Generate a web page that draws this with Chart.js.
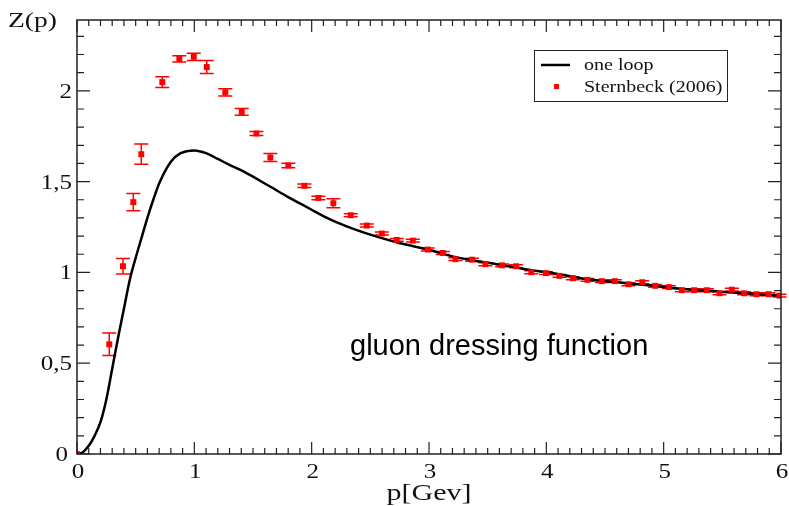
<!DOCTYPE html>
<html>
<head>
<meta charset="utf-8">
<script src="https://cdn.jsdelivr.net/npm/chart.js@4.4.1/dist/chart.umd.min.js"></script>
<style>
  html, body { margin: 0; padding: 0; background: #fff; }
  #wrap { width: 789px; height: 506px; }
</style>
</head>
<body>
<div id="wrap"><canvas id="chart" width="789" height="506"></canvas></div>
<script>
// Sternbeck (2006) lattice points
const latticeP = [0, 0.275, 0.392, 0.48, 0.548, 0.727, 0.872, 0.995, 1.106, 1.264, 1.404, 1.529, 1.648, 1.801,
    1.938, 2.057, 2.185, 2.333, 2.470, 2.598, 2.725, 2.862, 2.990, 3.118, 3.225, 3.367, 3.481, 3.623, 3.743,
    3.872, 3.997, 4.112, 4.226, 4.350, 4.473, 4.584, 4.700, 4.817, 4.928, 5.044, 5.155, 5.260, 5.368, 5.476,
    5.581, 5.686, 5.791, 5.893, 5.987];
const latticeZ = [0, 0.604, 1.034, 1.387, 1.651, 2.048, 2.176, 2.187, 2.131, 1.991, 1.884, 1.765, 1.633, 1.589,
    1.477, 1.410, 1.381, 1.315, 1.258, 1.214, 1.179, 1.175, 1.126, 1.107, 1.073, 1.070, 1.045, 1.039, 1.034,
    1.001, 0.996, 0.981, 0.968, 0.959, 0.952, 0.952, 0.935, 0.946, 0.926, 0.919, 0.902, 0.902, 0.902, 0.885,
    0.905, 0.885, 0.880, 0.880, 0.872];
const latticeErr = [0, 0.062, 0.043, 0.047, 0.056, 0.030, 0.017, 0.020, 0.036, 0.020, 0.018, 0.011, 0.022, 0.012,
    0.010, 0.010, 0.025, 0.008, 0.008, 0.008, 0.008, 0.008, 0.008, 0.008, 0.008, 0.008, 0.008, 0.008, 0.008,
    0.008, 0.008, 0.008, 0.008, 0.008, 0.008, 0.008, 0.008, 0.008, 0.008, 0.008, 0.008, 0.008, 0.008, 0.008,
    0.008, 0.008, 0.008, 0.008, 0.008];

// one loop curve
const loopP = [0, 0.05, 0.1, 0.15, 0.2, 0.25, 0.3, 0.35, 0.4, 0.45, 0.5, 0.55, 0.6, 0.65, 0.7, 0.8, 0.88,
    1.0, 1.1, 1.2, 1.3, 1.418, 1.645, 1.8, 1.9, 2.0, 2.1, 2.2, 2.355, 2.555, 2.754, 2.981, 3.208, 3.436, 3.663,
    3.89, 4.06, 4.345, 4.629, 4.913, 5.198, 5.482, 5.766, 6.0];
const loopZ = [0, 0.01, 0.045, 0.10, 0.175, 0.30, 0.47, 0.64, 0.80, 0.96, 1.08, 1.19, 1.30, 1.40, 1.49, 1.61, 1.655,
    1.672, 1.657, 1.625, 1.592, 1.556, 1.473, 1.415, 1.38, 1.345, 1.31, 1.28, 1.24, 1.197, 1.161, 1.128, 1.087,
    1.06, 1.036, 1.01, 0.996, 0.962, 0.944, 0.926, 0.907, 0.894, 0.882, 0.871];

const xTicks = [0, 1, 2, 3, 4, 5, 6];
const xTickLabels = ['0', '1', '2', '3', '4', '5', '6'];
const yTicks = [0, 0.5, 1, 1.5, 2];
const yTickLabels = ['0', '0,5', '1', '1,5', '2'];

const serif = '"Liberation Serif", "Times New Roman", serif';
const stretch = 1.25; // the original plot is a bit wider than tall

function serifText(ctx, text, x, y, size, align) {
    ctx.save();
    ctx.font = size + 'px ' + serif;
    ctx.textAlign = align;
    ctx.textBaseline = 'alphabetic';
    ctx.fillStyle = '#111';
    ctx.translate(x, y);
    ctx.scale(stretch, 1);
    ctx.fillText(text, 0, 0);
    ctx.restore();
}

// error bars under the points
const errorBars = {
    id: 'errorBars',
    beforeDatasetsDraw(chart) {
        const ctx = chart.ctx;
        const xs = chart.scales.x, ys = chart.scales.y;
        ctx.save();
        ctx.strokeStyle = '#ff0000';
        ctx.lineWidth = 1.5;
        latticeP.forEach((p, i) => {
            const e = latticeErr[i];
            if (!e) return;
            const x = xs.getPixelForValue(p);
            const y1 = ys.getPixelForValue(latticeZ[i] + e);
            const y2 = ys.getPixelForValue(latticeZ[i] - e);
            ctx.beginPath();
            ctx.moveTo(x, y1); ctx.lineTo(x, y2);
            ctx.moveTo(x - 7, y1); ctx.lineTo(x + 7, y1);
            ctx.moveTo(x - 7, y2); ctx.lineTo(x + 7, y2);
            ctx.stroke();
        });
        ctx.restore();
    }
};

// frame, inward ticks, labels, legend, caption
const frame = {
    id: 'frame',
    afterDraw(chart) {
        const ctx = chart.ctx;
        const a = chart.chartArea;
        const xs = chart.scales.x, ys = chart.scales.y;
        ctx.save();
        ctx.strokeStyle = '#222';
        ctx.lineWidth = 1.5;
        ctx.strokeRect(a.left, a.top, a.right - a.left, a.bottom - a.top);

        ctx.lineWidth = 1.2;
        ctx.beginPath();
        for (let k = 0; k <= 60; k++) {
            const x = xs.getPixelForValue(k / 10);
            const len = k % 10 === 0 ? 12 : 6;
            ctx.moveTo(x, a.bottom); ctx.lineTo(x, a.bottom - len);
            ctx.moveTo(x, a.top); ctx.lineTo(x, a.top + len);
        }
        for (let k = 0; k <= 23; k++) {
            const y = ys.getPixelForValue(k / 10);
            const len = k % 5 === 0 ? 13 : 7;
            ctx.moveTo(a.left, y); ctx.lineTo(a.left + len, y);
            ctx.moveTo(a.right, y); ctx.lineTo(a.right - len, y);
        }
        ctx.stroke();
        ctx.restore();

        xTicks.forEach((v, i) => {
            serifText(ctx, xTickLabels[i], xs.getPixelForValue(v) + 1, a.bottom + 24, 20, 'center');
        });
        yTicks.forEach((v, i) => {
            const right = v === 0 ? a.left - 9 : a.left - 5;
            serifText(ctx, yTickLabels[i], right, ys.getPixelForValue(v) + 7, 20, 'right');
        });
        serifText(ctx, 'p[Gev]', (a.left + a.right) / 2, 500, 24, 'center');
        serifText(ctx, 'Z(p)', 8, 27, 22, 'left');

        // legend box
        ctx.save();
        ctx.strokeStyle = '#222';
        ctx.lineWidth = 1;
        ctx.strokeRect(534.5, 50.5, 193, 51);
        ctx.strokeStyle = '#000';
        ctx.lineWidth = 2.5;
        ctx.beginPath();
        ctx.moveTo(541, 65); ctx.lineTo(570, 65);
        ctx.stroke();
        ctx.fillStyle = '#ff0000';
        ctx.fillRect(554, 84, 5, 5);
        ctx.restore();
        serifText(ctx, 'one loop', 584, 70, 16, 'left');
        serifText(ctx, 'Sternbeck (2006)', 584, 92, 16, 'left');

        ctx.save();
        ctx.font = '29px "Liberation Sans", Arial, sans-serif';
        ctx.fillStyle = '#000';
        ctx.textBaseline = 'alphabetic';
        ctx.fillText('gluon dressing function', 350, 355);
        ctx.restore();
    }
};

new Chart(document.getElementById('chart'), {
    type: 'scatter',
    data: {
        datasets: [
            {
                label: 'one loop',
                data: loopP.map((p, i) => ({ x: p, y: loopZ[i] })),
                showLine: true,
                borderColor: '#000',
                borderWidth: 2.5,
                pointRadius: 0,
                tension: 0.4,
                cubicInterpolationMode: 'monotone',
                order: 2
            },
            {
                label: 'Sternbeck (2006)',
                data: latticeP.map((p, i) => ({ x: p, y: latticeZ[i] })),
                showLine: false,
                backgroundColor: '#ff0000',
                borderColor: '#ff0000',
                borderWidth: 0,
                pointStyle: 'rect',
                pointRadius: 4.2,
                order: 1
            }
        ]
    },
    options: {
        responsive: false,
        animation: false,
        layout: { padding: { top: 20, right: 8, left: 0, bottom: 0 } },
        plugins: { legend: { display: false }, tooltip: { enabled: false } },
        scales: {
            x: {
                type: 'linear', min: 0, max: 6,
                ticks: { display: false },
                grid: { display: false },
                border: { display: false },
                afterFit: s => { s.height = 52; }
            },
            y: {
                type: 'linear', min: 0, max: 2.39,
                ticks: { display: false },
                grid: { display: false },
                border: { display: false },
                afterFit: s => { s.width = 77; }
            }
        }
    },
    plugins: [errorBars, frame]
});
</script>
</body>
</html>
